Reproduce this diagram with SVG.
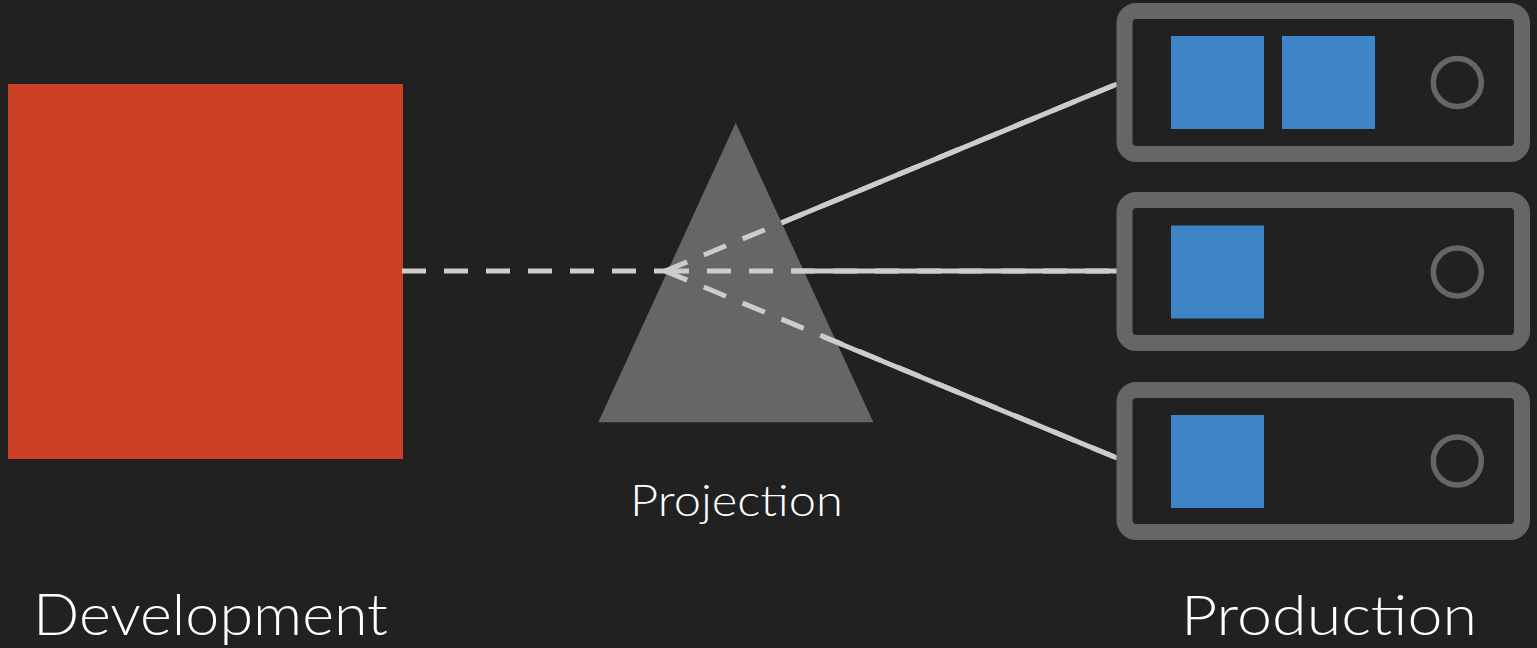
<svg xmlns="http://www.w3.org/2000/svg" width="1537" height="648" viewBox="0 0 1537 648">
  <style>
    .bg { fill: #212121; }
    .label { fill: #ffffff; font-family: Lato, "Liberation Sans", sans-serif; font-weight: 300; }
    .server { fill: #212121; stroke: #666666; stroke-width: 16; }
    .slot { fill: #3d85c6; }
    .led { fill: none; stroke: #666666; stroke-width: 5.5; }
    .solid { stroke: #cccccc; stroke-width: 5; fill: none; }
    .dash { stroke: #cccccc; stroke-width: 5; fill: none; stroke-dasharray: 24 18; }
  </style>
  <rect class="bg" x="0" y="0" width="1537" height="648"/>

  <g id="development">
    <rect x="8" y="84" width="395" height="375" fill="#cc4125"/>
    <text class="label" x="33" y="635" font-size="58" textLength="355" lengthAdjust="spacingAndGlyphs">Development</text>
  </g>

  <g id="projection">
    <polygon points="735.7,122.7 598.3,422.3 873.3,422.3" fill="#666666"/>
    <text class="label" x="630" y="515.5" font-size="43" textLength="213" lengthAdjust="spacingAndGlyphs">Projection</text>
  </g>

  <g id="connectors">
    <path class="dash" d="M402,271 L676,271"/>
    <path class="dash" d="M665,271 L1117,84"/>
    <path class="dash" d="M665,271 L1117,271"/>
    <path class="dash" d="M665,271 L1117,458"/>
    <path class="solid" d="M781.7,222.8 L1117,84"/>
    <path class="solid" d="M793,271 L1117,271"/>
    <path class="solid" d="M823.3,336.7 L1117,458"/>
  </g>

  <g id="server1">
    <rect class="server" x="1124.5" y="11" width="397.5" height="143" rx="12"/>
    <rect class="slot" x="1171" y="36" width="93" height="93"/>
    <rect class="slot" x="1282" y="36" width="93" height="93"/>
    <circle class="led" cx="1457.3" cy="82.5" r="24"/>
  </g>

  <g id="server2">
    <rect class="server" x="1124.5" y="200" width="397.5" height="143" rx="12"/>
    <rect class="slot" x="1171" y="225.5" width="93" height="93"/>
    <circle class="led" cx="1457.3" cy="272" r="24"/>
  </g>

  <g id="server3">
    <rect class="server" x="1124.5" y="390" width="397.5" height="142" rx="12"/>
    <rect class="slot" x="1171" y="415" width="93" height="93"/>
    <circle class="led" cx="1457.3" cy="461" r="24"/>
  </g>

  <g id="production">
    <text class="label" x="1181" y="635" font-size="56" textLength="296" lengthAdjust="spacingAndGlyphs">Production</text>
  </g>
</svg>
